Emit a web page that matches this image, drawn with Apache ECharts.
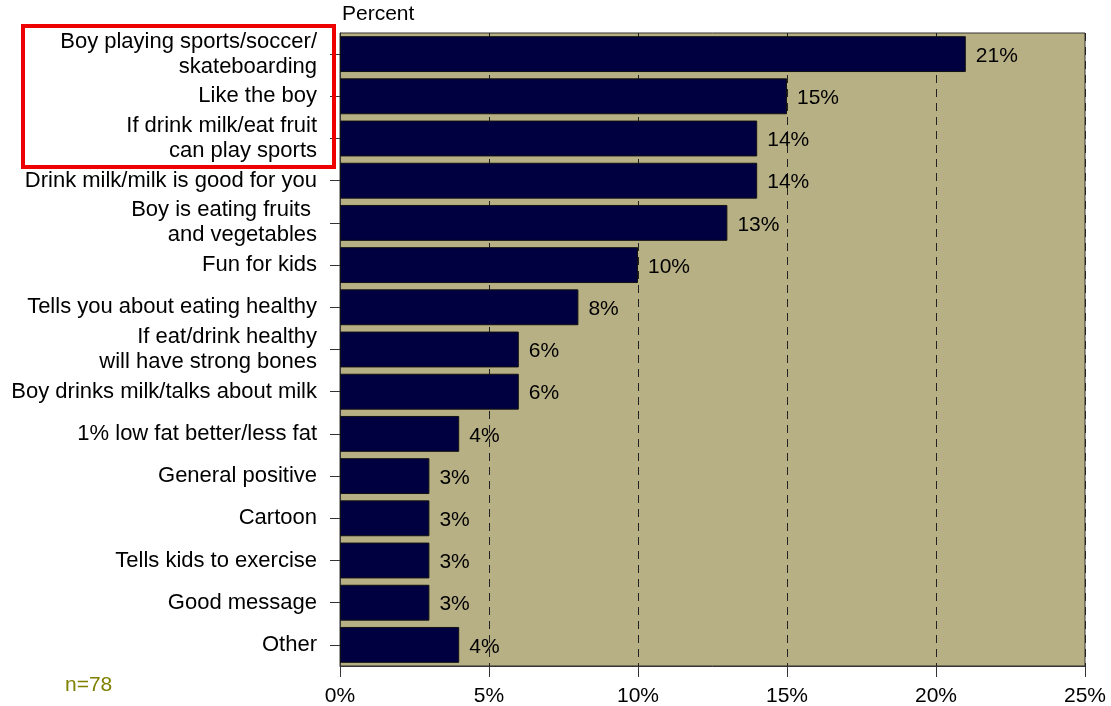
<!DOCTYPE html>
<html>
<head>
<meta charset="utf-8">
<script src="https://cdn.jsdelivr.net/npm/echarts@6/dist/echarts.min.js"></script>
<style>
  html, body { margin: 0; padding: 0; background: #ffffff; }
  #chart { width: 1111px; height: 706px; }
</style>
</head>
<body>
<div id="chart"></div>
<script>
// Reasons given for liking the ad, top to bottom
const categories = [
  'Boy playing sports/soccer/\nskateboarding',
  'Like the boy',
  'If drink milk/eat fruit\ncan play sports',
  'Drink milk/milk is good for you',
  'Boy is eating fruits \nand vegetables',
  'Fun for kids',
  'Tells you about eating healthy',
  'If eat/drink healthy\nwill have strong bones',
  'Boy drinks milk/talks about milk',
  '1% low fat better/less fat',
  'General positive',
  'Cartoon',
  'Tells kids to exercise',
  'Good message',
  'Other'
];
const percents = [21, 15, 14, 14, 13, 10, 8, 6, 6, 4, 3, 3, 3, 3, 4];
const xTicks = [0, 5, 10, 15, 20, 25];
const sampleNote = 'n=78';
const axisTitle = 'Percent';

const chart = echarts.init(document.getElementById('chart'), null, { renderer: 'canvas' });
const font = 'Arial, "Liberation Sans", Helvetica, sans-serif';
const fs = 21;

chart.setOption({
  animation: false,
  textStyle: { fontFamily: font },
  grid: { left: 340, right: 26, top: 33, bottom: 40, containLabel: false, outerBoundsMode: 'none',
          show: true, backgroundColor: '#b8b085', borderColor: '#333333', borderWidth: 1 },
  xAxis: {
    type: 'value',
    min: xTicks[0], max: xTicks[xTicks.length - 1], interval: 5,
    axisLine: { show: true, lineStyle: { color: '#333333', width: 1 } },
    axisTick: { show: true, length: 11, lineStyle: { color: '#333333' } },
    axisLabel: { formatter: v => v + '%', color: '#000', fontSize: fs, margin: 20, fontFamily: font },
    splitLine: { show: true, lineStyle: { color: '#222222', type: [8, 6], width: 1 } }
  },
  yAxis: {
    type: 'category',
    inverse: true,
    data: categories,
    axisLine: { show: true, lineStyle: { color: '#333333', width: 1 } },
    axisTick: { show: true, alignWithLabel: true, length: 10, lineStyle: { color: '#333333' } },
    axisLabel: { interval: 0, color: '#000', fontSize: 22, lineHeight: 25, margin: 23, align: 'right',
                 fontFamily: font },
    splitLine: { show: false }
  },
  series: [{
    type: 'bar',
    data: percents,
    barCategoryGap: '15%',
    itemStyle: { color: '#000040', borderColor: '#111111', borderWidth: 1 },
    label: {
      show: true, position: 'right', distance: 10, offset: [0, 2],
      formatter: p => p.value + '%', color: '#000', fontSize: fs, fontFamily: font
    }
  }],
  graphic: [
    { type: 'text', left: 342, top: 4,
      style: { text: axisTitle, fontSize: fs, fill: '#000', fontFamily: font } },
    { type: 'text', left: 65, top: 675,
      style: { text: sampleNote, fontSize: fs, fill: '#808000', fontFamily: font } },
    { type: 'rect', shape: { x: 23, y: 26, width: 311, height: 141 },
      style: { fill: 'none', stroke: '#ee0000', lineWidth: 4 }, z: 100 }
  ]
});
</script>
</body>
</html>
